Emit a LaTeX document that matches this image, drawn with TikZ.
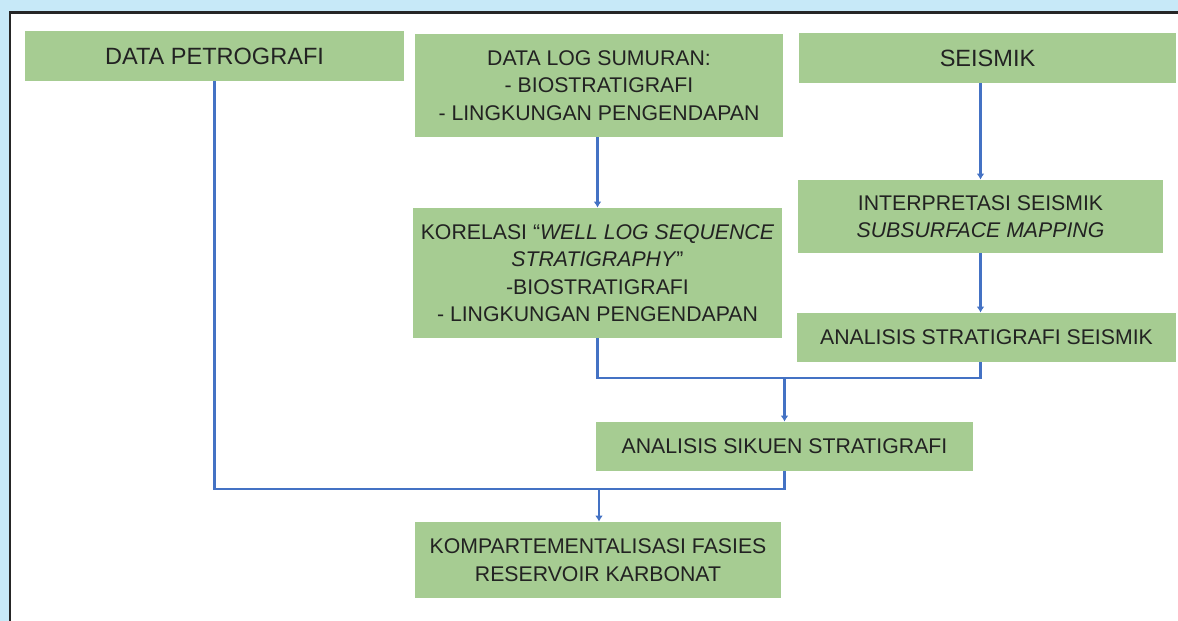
\documentclass[tikz,border=0pt]{standalone}
\usepackage{fontspec}
\setmainfont{Liberation Sans}
\usepackage{xcolor}
\usetikzlibrary{arrows.meta, positioning, calc}

\definecolor{boxgreen}{RGB}{166,204,146}
\definecolor{linkblue}{RGB}{68,114,196}
\definecolor{skyband}{RGB}{199,233,248}
\definecolor{inktext}{RGB}{34,34,34}

\begin{document}
\begin{tikzpicture}[x=0.02cm, y=-0.02cm,
  block/.style={rectangle, fill=boxgreen, inner sep=0pt, align=center,
    text=inktext, font=\fontsize{12.1}{15.6}\selectfont},
  bigblock/.style={block, font=\fontsize{13.4}{16}\selectfont},
  link/.style={draw=linkblue, line width=1.2pt},
  arrow/.style={link, -{Latex[length=3.5pt, width=4.5pt]}},
]

% frame
\useasboundingbox (0,0) rectangle (1178,621);
\fill[skyband] (0,0) rectangle (1178,621);
\fill[white] (9.8,12.3) rectangle (1178,621);
\draw[line width=1.4pt, black!85] (9.8,621) -- (9.8,12.3) -- (1178,12.3);

% boxes
\node[bigblock, minimum width=7.58cm, minimum height=1.0cm] (petro) at (214.5,56) {DATA PETROGRAFI};
\node[block, minimum width=7.36cm, minimum height=2.06cm] (logsum) at (599,85.5)
  {DATA LOG SUMURAN:\\- BIOSTRATIGRAFI\\- LINGKUNGAN PENGENDAPAN};
\node[bigblock, minimum width=7.54cm, minimum height=1.0cm] (seis) at (987.5,58) {SEISMIK};
\node[block, minimum width=7.38cm, minimum height=2.6cm] (korel) at (597.5,273)
  {KORELASI ``\textit{WELL LOG SEQUENCE}\\\textit{STRATIGRAPHY}''\\-BIOSTRATIGRAFI\\- LINGKUNGAN PENGENDAPAN};
\node[block, minimum width=7.3cm, minimum height=1.46cm] (interp) at (980.5,216.5)
  {INTERPRETASI SEISMIK\\\textit{SUBSURFACE MAPPING}};
\node[block, minimum width=7.58cm, minimum height=0.98cm] (strat) at (986.5,337.5) {ANALISIS STRATIGRAFI SEISMIK};
\node[block, minimum width=7.54cm, minimum height=0.98cm] (sikuen) at (784.5,446.5) {ANALISIS SIKUEN STRATIGRAFI};
\node[block, minimum width=7.32cm, minimum height=1.52cm] (komp) at (598,560)
  {KOMPARTEMENTALISASI FASIES\\RESERVOIR KARBONAT};

% junctions
\coordinate (upjoin) at (784.5,378);
\coordinate (lowjoin) at (599,489);

% connectors
\draw[arrow] (logsum.south -| korel.north) -- (korel.north);
\draw[arrow] (seis.south -| interp.north) -- (interp.north);
\draw[arrow] (interp.south) -- (interp.south |- strat.north);
\draw[link] (korel.south) |- (upjoin) -| (interp.south |- strat.south);
\draw[arrow] (upjoin) -- (sikuen.north);
\draw[link] (petro.south) |- (lowjoin) -| (sikuen.south);
\draw[arrow] (lowjoin) -- (lowjoin |- komp.north);

\end{tikzpicture}
\end{document}
